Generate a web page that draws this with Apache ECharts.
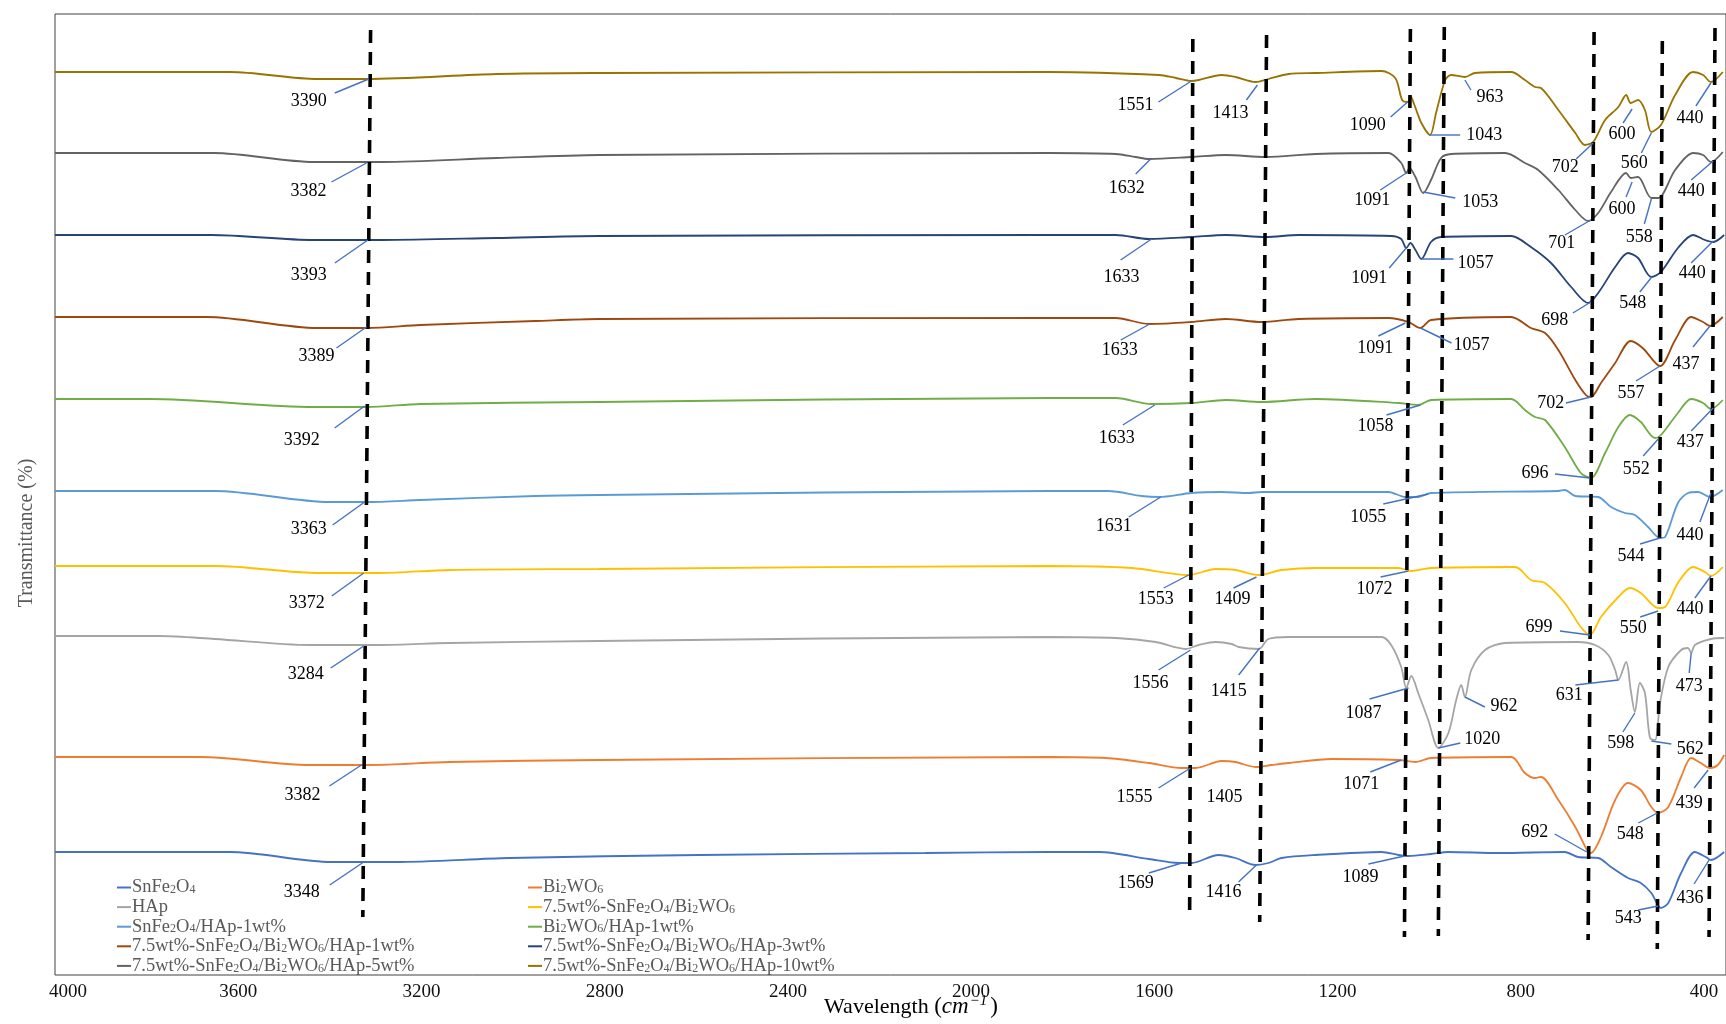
<!DOCTYPE html>
<html><head><meta charset="utf-8">
<script src="https://cdn.jsdelivr.net/npm/echarts@6/dist/echarts.min.js"></script>
<style>html,body{margin:0;padding:0;background:#fff}#c{width:1726px;height:1024px}</style>
</head><body><div id="c"></div>
<script>
// ---------- data (wavenumber cm-1, stacked transmittance a.u.) ----------
const seriesNames = ['SnFe2O4','Bi2WO6','HAp','7.5wt%-SnFe2O4/Bi2WO6','SnFe2O4/HAp-1wt%','Bi2WO6/HAp-1wt%',
  '7.5wt%-SnFe2O4/Bi2WO6/HAp-1wt%','7.5wt%-SnFe2O4/Bi2WO6/HAp-3wt%','7.5wt%-SnFe2O4/Bi2WO6/HAp-5wt%','7.5wt%-SnFe2O4/Bi2WO6/HAp-10wt%'];
const seriesColors = ['#4472C4','#ED7D31','#A5A5A5','#FFC000','#5B9BD5','#70AD47','#9E480E','#264478','#636363','#997300'];

const sSnFe2O4 = [[4000,12.3],[3618,12.3],[3396,11.3],[3259,11.3],[3008,11.7],[2594,12.0],[2100,12.2],[1830,12.3],[1721,12.3],
 [1612,11.6],[1547,11.2],[1519,11.2],[1460,12.0],[1423,11.7],[1379,11.0],[1351,11.2],[1322,11.7],[1248,12.0],[1104,12.3],
 [1067,12.0],[1045,11.9],[996,12.1],[958,12.3],[849,12.2],[704,12.3],[675,11.8],[631,11.7],[603,10.8],[566,9.7],[538,9.2],
 [515,8.2],[494,6.7],[478,7.2],[450,10.2],[420,12.3],[396,11.8],[385,11.5],[356,12.3]];
const sBi2WO6 = [[4000,21.8],[3684,21.8],[3444,21.0],[3313,21.0],[3139,21.3],[2812,21.5],[1830,21.8],[1706,21.7],[1612,21.2],
 [1540,20.7],[1510,20.7],[1453,21.4],[1423,21.3],[1379,20.8],[1344,21.0],[1307,21.2],[1213,21.6],[1067,21.5],[1030,21.3],
 [996,21.7],[821,21.8],[791,20.2],[769,19.7],[756,19.8],[718,17.5],[681,14.8],[653,12.3],[647,12.2],[625,13.8],[594,17.5],
 [566,19.2],[538,18.5],[515,16.8],[500,16.2],[478,16.8],[450,19.8],[428,21.7],[407,21.2],[387,20.7],[370,21.0],[356,22.0]];
const sHAp = [[4000,33.9],[3771,33.9],[3651,33.6],[3444,33.0],[3291,33.0],[3139,33.2],[2812,33.4],[1830,33.8],[1684,33.7],
 [1597,33.3],[1532,32.6],[1503,33.0],[1466,33.3],[1431,33.1],[1416,32.8],[1372,32.6],[1351,33.6],[1307,33.8],[1104,33.8],
 [1083,33.0],[1061,30.8],[1050,28.7],[1039,29.9],[1024,28.2],[1002,25.5],[980,22.7],[958,24.2],[941,27.5],[930,29.0],
 [922,27.8],[908,30.5],[878,32.5],[834,33.2],[675,33.3],[638,33.0],[609,32.0],[594,30.5],[587,29.5],[570,31.3],[560,28.5],
 [551,26.3],[540,29.2],[529,28.2],[518,23.7],[507,23.5],[496,27.2],[478,30.8],[450,32.5],[435,32.7],[428,32.2],[420,33.0],
 [385,33.6],[356,33.7]];
const sSnBi = [[4000,40.9],[3651,40.9],[3422,40.2],[3291,40.2],[3139,40.5],[2812,40.6],[1830,40.9],[1649,40.7],[1525,40.0],
 [1466,40.6],[1423,40.5],[1372,40.0],[1322,40.5],[1248,40.7],[1067,40.7],[1039,40.4],[996,40.7],[812,40.8],[778,39.5],
 [747,39.2],[704,37.2],[669,34.8],[649,34.0],[625,35.8],[587,37.8],[562,38.7],[538,38.2],[500,36.7],[485,36.8],[457,39.2],
 [424,40.8],[398,40.3],[385,39.9],[359,40.8]];
const sSnHAp1 = [[4000,48.4],[3651,48.4],[3400,47.3],[3320,47.3],[3202,47.5],[2951,47.9],[2812,48.0],[1830,48.4],[1700,48.4],
 [1628,47.9],[1590,47.8],[1519,48.2],[1453,48.3],[1394,48.2],[1366,48.3],[1089,48.3],[1052,47.8],[1024,47.8],[996,48.2],
 [718,48.4],[704,48.5],[681,47.9],[631,47.8],[603,46.8],[573,46.2],[551,46.0],[522,44.8],[496,43.7],[485,43.8],[457,47.2],
 [435,48.2],[413,48.3],[387,47.8],[359,48.5]];
const sBiHAp1 = [[4000,57.6],[3793,57.6],[3435,56.8],[3320,56.8],[3202,57.1],[2812,57.3],[1830,57.7],[1684,57.7],[1606,57.1],
 [1519,57.2],[1444,57.5],[1366,57.3],[1248,57.6],[1067,57.2],[1024,57.0],[996,57.5],[821,57.6],[791,56.5],[769,55.8],
 [747,55.5],[704,52.8],[669,50.2],[647,49.7],[616,52.2],[587,54.8],[562,56.0],[538,55.3],[507,53.7],[494,54.0],[457,56.2],
 [428,57.6],[402,57.2],[385,56.6],[359,57.5]];
const sTri1 = [[4000,65.8],[3669,65.8],[3427,64.7],[3320,64.7],[3202,65.0],[2951,65.4],[2812,65.6],[1830,65.7],[1684,65.7],
 [1612,65.1],[1519,65.3],[1444,65.6],[1366,65.3],[1285,65.6],[1089,65.7],[1045,65.3],[1019,64.7],[996,65.5],[821,65.8],
 [778,64.7],[747,64.2],[718,62.5],[681,59.5],[658,58.0],[647,57.8],[625,59.2],[594,61.2],[560,63.4],[534,62.7],[496,60.9],
 [463,63.5],[428,65.8],[402,65.3],[387,64.9],[359,65.8]];
const sTri3 = [[4000,74.0],[3658,74.0],[3435,73.5],[3285,73.5],[3036,73.7],[2812,73.9],[1830,74.0],[1684,74.0],[1612,73.6],
 [1519,73.8],[1444,74.0],[1357,73.8],[1285,74.0],[1083,73.9],[1061,73.6],[1050,72.7],[1041,73.2],[1030,72.5],[1017,71.6],
 [996,73.3],[974,73.8],[821,73.9],[778,72.8],[734,71.2],[690,68.8],[653,67.2],[631,68.2],[594,70.8],[566,72.2],[544,71.7],
 [515,69.8],[494,70.3],[457,72.7],[424,74.0],[398,73.5],[380,73.3],[356,74.0]];
const sTri5 = [[4000,82.2],[3653,82.2],[3435,81.3],[3285,81.3],[3036,81.7],[2812,82.0],[1830,82.2],[1684,82.1],[1641,81.8],
 [1612,81.6],[1519,81.8],[1444,82.0],[1357,81.8],[1248,82.1],[1089,82.2],[1061,81.2],[1050,80.2],[1043,80.7],[1030,79.8],
 [1013,78.2],[996,79.5],[974,81.7],[952,82.1],[834,82.2],[791,81.2],[762,80.5],[718,78.5],[681,76.5],[653,75.4],[631,76.2],
 [603,78.3],[570,80.2],[560,79.7],[544,79.8],[515,77.7],[500,77.7],[463,80.5],[424,82.2],[402,82.0],[385,81.3],[359,82.3]];
const sTri10 = [[4000,90.3],[3618,90.3],[3427,89.6],[3320,89.6],[3036,90.1],[2812,90.2],[1830,90.3],[1590,90.0],[1553,89.7],
 [1519,89.4],[1503,89.5],[1453,90.0],[1423,89.8],[1379,89.3],[1351,89.6],[1307,90.1],[1248,90.2],[1104,90.4],[1074,89.7],
 [1059,87.5],[1047,87.3],[1041,87.9],[1033,87.1],[1017,85.2],[998,84.0],[985,86.2],[965,89.5],[952,90.0],[922,89.8],
 [900,90.2],[821,90.3],[791,89.5],[769,88.8],[756,88.7],[718,86.5],[681,84.2],[660,83.0],[642,83.3],[616,85.5],[587,86.8],
 [570,88.0],[560,87.2],[544,87.5],[529,86.5],[515,84.3],[494,85.0],[463,88.0],[424,90.3],[402,90.0],[385,89.3],[359,90.3]];
const seriesData = [sSnFe2O4,sBi2WO6,sHAp,sSnBi,sSnHAp1,sBiHAp1,sTri1,sTri3,sTri5,sTri10];

const xTicks = [4000,3600,3200,2800,2400,2000,1600,1200,800,400];

// peak annotations (value labels, wavenumber, transmittance at the marked point)
const peakLabels = ['3390','3382','3393','3389','3392','3363','3372','3284','3382','3348',
 '1551','1413','1090','1043','963','702','600','560','440',
 '1632','1091','1053','701','600','558','440',
 '1633','1091','1057','698','548','440',
 '1633','1091','1057','702','557','437',
 '1633','1058','696','552','437',
 '1631','1055','544','440',
 '1553','1409','1072','699','550','440',
 '1556','1415','1087','1020','962','631','598','562','473',
 '1555','1405','1071','692','548','439',
 '1569','1416','1089','543','436'];
const peakWave = [3315,3320,3317,3320,3324,3324,3326,3326,3331,3326,
 1519,1375,1047,1000,922,642,557,515,385,
 1608,1050,1013,647,557,515,380,
 1606,1050,1017,647,514,380,
 1610,1052,1019,647,496,387,
 1599,1019,649,500,380,
 1586,1002,496,385,
 1525,1377,1045,649,500,385,
 1521,1370,1045,980,922,587,551,515,428,
 1521,1379,1061,656,502,391,
 1540,1377,1054,500,389];
const peakT = [89.6,81.2,73.5,64.8,56.9,47.3,40.2,32.9,21.0,11.3,
 89.4,89.0,87.3,84.0,89.5,83.2,86.6,84.2,89.2,
 81.6,80.2,78.3,75.5,79.3,77.6,81.4,
 73.6,72.7,71.6,67.3,69.8,73.4,
 65.1,65.2,64.7,57.8,60.9,64.9,
 57.0,57.0,49.7,53.6,56.7,
 47.8,48.1,43.7,48.2,
 40.0,39.8,40.4,34.0,36.4,39.9,
 32.5,32.7,28.7,22.7,27.8,29.5,26.2,23.4,32.2,
 20.7,20.8,21.5,12.3,16.2,20.5,
 11.2,11.0,11.9,6.9,11.5];
// layout of each annotation: [text dx, text dy, leader start dx, leader start dy] in px
const peakLayout = [[-60,22,-34,14],[-58,28,-35,19],[-59,35,-33,23],[-50,29,-30,21],[-63,34,-30,22],[-56,27,-32,23],[-57,30,-32,23],[-58,28,-33,22],[-59,30,-32,21],[-62,30,-34,23],
 [-56,24,-33,21],[-27,28,-11,15],[-40,23,-17,15],[55,0,31,0],[25,17,6,10],[-28,24,-17,16],[-10,25,-9,14],[-17,30,-10,20],[-21,35,-15,23],
 [-24,29,-15,15],[-34,27,-26,17],[57,10,32,6],[-29,23,-26,15],[-10,27,-6,15],[-12,38,-7,25],[-22,30,-22,19],
 [-30,38,-31,21],[-37,30,-17,20],[54,4,32,0],[-36,18,-18,11],[-19,26,-12,15],[-21,32,-22,22],
 [-30,26,-29,16],[-30,25,-27,13],[51,17,31,15],[-40,6,-25,6],[-29,27,-24,15],[-24,38,-17,21],
 [-38,33,-32,20],[-45,21,-34,10],[-55,-5,-35,-4],[-22,30,-15,17],[-23,34,-22,23],
 [-47,29,-32,20],[-60,23,-45,10],[-29,18,-20,6],[-21,42,-11,29],
 [-33,24,-25,13],[-24,22,-23,11],[-34,18,-28,6],[-51,-8,-30,-4],[-25,17,-18,6],[-21,33,-16,22],
 [-40,33,-32,20],[-31,43,-21,27],[-45,25,-39,11],[44,-9,22,-5],[39,9,20,10],[-49,15,-43,5],[-14,30,-12,19],[39,8,20,3],[-2,33,-2,20],
 [-56,29,-32,20],[-31,30,0,0],[-40,24,-31,12],[-52,-20,-32,-18],[-27,21,-19,10],[-19,33,-14,18],
 [-46,20,-33,10],[-33,27,-18,17],[-44,21,-36,8],[-30,12,-20,4],[-19,38,-15,24]];

// dashed guide lines: wavenumber at top / bottom, transmittance at top / bottom
const guideTopWave = [3311,1516,1355,1041,967,640,491,376];
const guideBotWave = [3328,1523,1370,1054,980,653,502,389];
const guideTopT = [94.5,93.6,94.0,94.6,94.8,94.3,93.4,94.7];
const guideBotT = [5.8,5.6,5.3,3.8,3.9,3.5,2.6,3.8];

// ---------- chart ----------
const SERIF = '"Liberation Serif", "Times New Roman", serif';
const chart = echarts.init(document.getElementById('c'), null, {renderer:'canvas'});

function legendFmt(name){
  let out = '', buf = '';
  for (let i = 0; i < name.length; i++) {
    const ch = name[i];
    if (/\d/.test(ch) && i > 0 && /[A-Za-z]/.test(name[i-1])) {
      if (buf) { out += '{n|' + buf + '}'; buf = ''; }
      out += '{s|' + ch + '}';
    } else buf += ch;
  }
  if (buf) out += '{n|' + buf + '}';
  return out;
}
const legendRich = {
  n: {fontFamily: SERIF, fontSize: 18.5, color: '#595959', lineHeight: 17},
  s: {fontFamily: SERIF, fontSize: 12, color: '#595959', lineHeight: 11, verticalAlign: 'bottom'}
};
function legendCfg(left, names){
  return {orient:'vertical', left:left, top:873, itemWidth:14, itemHeight:2, itemGap:0.6, icon:'rect',
    selectedMode:false, data:names, formatter:legendFmt,
    textStyle:{rich:legendRich, padding:[0,0,0,-4], lineHeight:17}};
}

const series = seriesData.map((d, i) => ({
  name: seriesNames[i], type:'line', data:d, symbol:'none', smooth:0.3,
  lineStyle:{color:seriesColors[i], width:1.8}, itemStyle:{color:seriesColors[i]}, z:2, silent:true
}));
guideTopWave.forEach((w, i) => {
  series.push({name:'guide'+i, type:'line', data:[[w, guideTopT[i]],[guideBotWave[i], guideBotT[i]]],
    symbol:'none', silent:true, z:4, lineStyle:{color:'#000', width:3.6, type:[13,9]}});
});
series.push({
  name:'peaks', type:'custom', silent:true, z:6, clip:false,
  data: peakWave.map((w, i) => [w, peakT[i]]),
  renderItem: function(params, api){
    const i = params.dataIndex;
    const p = api.coord([api.value(0), api.value(1)]);
    const L = peakLayout[i];
    const ch = [];
    if (L[2] !== 0 || L[3] !== 0) {
      ch.push({type:'line', shape:{x1:p[0]+L[2], y1:p[1]+L[3], x2:p[0], y2:p[1]},
        style:{stroke:'#4472C4', lineWidth:1.4}});
    }
    ch.push({type:'text', style:{text:peakLabels[i], x:p[0]+L[0], y:p[1]+L[1], align:'center',
      verticalAlign:'middle', font:'18px ' + SERIF, fill:'#000'}});
    return {type:'group', children:ch};
  }
});

chart.setOption({
  animation:false,
  backgroundColor:'#fff',
  grid:{left:55, top:14, bottom:49, right:-2, show:true, borderColor:'#404040', borderWidth:1, backgroundColor:'transparent'},
  xAxis:{type:'value', inverse:true, min:352, max:4000,
    axisLine:{show:false}, axisTick:{show:false}, splitLine:{show:false},
    axisLabel:{customValues:xTicks, fontFamily:SERIF, fontSize:19, color:'#111', margin:8,
      formatter: v => v === 4000 ? '{f|4000}' : String(v),
      rich:{f:{fontFamily:SERIF, fontSize:19, color:'#111', padding:[0,0,0,26]}}}},
  yAxis:{type:'value', min:0, max:96.1, show:false},
  legend:[
    legendCfg(112, [seriesNames[0],seriesNames[2],seriesNames[4],seriesNames[6],seriesNames[8]]),
    legendCfg(523, [seriesNames[1],seriesNames[3],seriesNames[5],seriesNames[7],seriesNames[9]])
  ],
  graphic:[
    {type:'text', x:27, y:533, rotation:Math.PI/2, silent:true,
      style:{text:'Transmittance (%)', font:'20px ' + SERIF, fill:'#595959', align:'center', verticalAlign:'middle'}},
    {type:'text', x:911, y:1007, silent:true,
      style:{text:'{a|Wavelength }{b|(}{i|cm}{p|\u22121}{b|)}', align:'center', verticalAlign:'middle',
        rich:{a:{fontFamily:SERIF, fontSize:22, color:'#595959', lineHeight:26},
              b:{fontFamily:SERIF, fontSize:23, color:'#222', lineHeight:26},
              i:{fontFamily:SERIF, fontStyle:'italic', fontSize:23, color:'#222', lineHeight:26, padding:[0,1,0,0]},
              p:{fontFamily:SERIF, fontStyle:'italic', fontSize:15, color:'#222', lineHeight:15, verticalAlign:'top', padding:[0,3,0,0]}}}}
  ],
  series:series
});
</script></body></html>
